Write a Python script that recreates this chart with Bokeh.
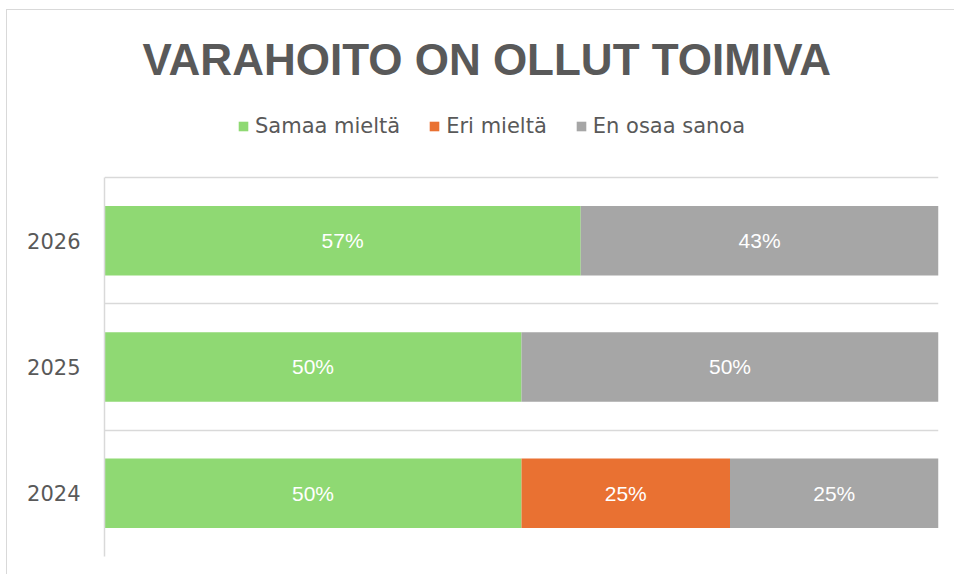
from bokeh.plotting import figure
from bokeh.models import ColumnDataSource, Range1d, FixedTicker, Legend, LegendItem
from bokeh.core.properties import value
from bokeh.embed import file_html
from bokeh.resources import INLINE

# ---- data ----
years = ["2024", "2025", "2026"]
samaa = [0.50, 0.50, 0.571]
eri = [0.25, 0.0, 0.0]
en_osaa = [0.25, 0.50, 0.429]
series_names = ["Samaa mieltä", "Eri mieltä", "En osaa sanoa"]
colors = ["#8fd973", "#e97132", "#a6a6a6"]
title_text = "VARAHOITO ON OLLUT TOIMIVA"

TEXT = "#595959"
GRID = "#d9d9d9"

n = len(years)
ypos = [i + 0.5 for i in range(n)]
src = ColumnDataSource(dict(y=ypos, s=samaa, e=eri, n=en_osaa))

p = figure(width=948, height=565, output_backend="svg", toolbar_location=None,
           x_range=Range1d(0, 1), y_range=Range1d(0, n + 0.625),
           min_border_left=97, min_border_right=17, min_border_bottom=19,
           min_border_top=88)
p.styles = {"margin-left": "6px", "margin-top": "9px",
            "border-left": "1.5px solid #d9d9d9", "border-top": "1.5px solid #d9d9d9"}
p.outline_line_color = None
p.background_fill_color = "white"
p.border_fill_color = "white"

rs = p.hbar_stack(["s", "e", "n"], y="y", height=0.55, color=colors,
                  line_color=None, source=src)

# data labels
lab_x, lab_y, lab_t = [], [], []
for i in range(n):
    left = 0.0
    for vals in (samaa, eri, en_osaa):
        v = vals[i]
        if v > 0:
            lab_x.append(left + v / 2)
            lab_y.append(ypos[i])
            lab_t.append(f"{round(v * 100)}%")
        left += v
p.text(x=lab_x, y=lab_y, text=lab_t, text_color="white",
       text_font=value("Liberation Sans"), text_font_size="21px",
       text_align="center", text_baseline="middle")

# axes
p.xaxis.visible = False
p.xgrid.visible = False
p.yaxis.ticker = FixedTicker(ticks=ypos)
p.yaxis.major_label_overrides = {y: t for y, t in zip(ypos, years)}
p.yaxis.bounds = (0, n)
p.yaxis.major_tick_line_color = None
p.yaxis.minor_tick_line_color = None
p.yaxis.axis_line_color = GRID
p.yaxis.axis_line_width = 1.5
p.yaxis.major_label_standoff = 18
p.yaxis.major_label_text_font = "DejaVu Sans"
p.yaxis.major_label_text_font_size = "21px"
p.yaxis.major_label_text_color = TEXT
p.ygrid.ticker = FixedTicker(ticks=list(range(n + 1)))
p.ygrid.grid_line_color = GRID
p.ygrid.grid_line_width = 1.5

# title
p.title.text = title_text
p.title.align = "left"
p.title.offset = 38
p.title.standoff = 30
p.title.text_font = "Liberation Sans"
p.title.text_font_size = "44px"
p.title.text_font_style = "bold"
p.title.text_color = TEXT

# legend (inside the frame, above the top gridline)
legend = Legend(items=[LegendItem(label=nm, renderers=[r]) for nm, r in zip(series_names, rs)],
                orientation="horizontal", location=(133, 418))
legend.label_text_font = "DejaVu Sans"
legend.label_text_font_size = "21px"
legend.label_text_color = TEXT
legend.glyph_width = 12
legend.glyph_height = 12
legend.label_standoff = 6
legend.spacing = 28
legend.padding = 0
legend.margin = 0
legend.border_line_color = None
legend.background_fill_alpha = 0
p.add_layout(legend, "center")

open("out.html", "w").write(file_html(p, INLINE))
